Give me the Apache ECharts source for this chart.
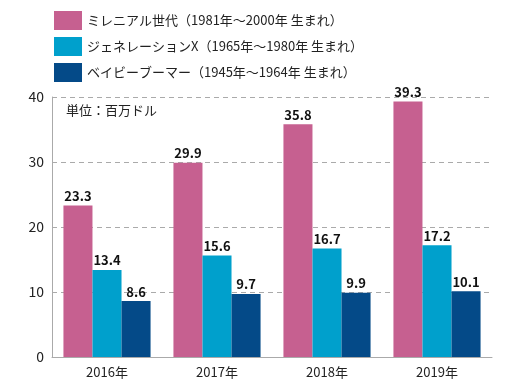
<!DOCTYPE html>
<html><head><meta charset="utf-8">
<script src="https://cdn.jsdelivr.net/npm/echarts@6/dist/echarts.min.js"></script>
<style>html,body{margin:0;padding:0;background:#fff}#c{width:529px;height:392px}</style>
</head><body><div id="c"></div>
<script>
var categories = ['2016年', '2017年', '2018年', '2019年'];
var seriesNames = ['ミレニアル世代（1981年～2000年 生まれ）', 'ジェネレーションX（1965年～1980年 生まれ）', 'ベイビーブーマー（1945年～1964年 生まれ）'];
var millennials = [23.3, 29.9, 35.8, 39.3];
var genX = [13.4, 15.6, 16.7, 17.2];
var boomers = [8.6, 9.7, 9.9, 10.1];
var yTicks = [0, 10, 20, 30, 40];
var unitLabel = '単位：百万ドル';
var colors = ['#c66090', '#00a0cc', '#044a88'];
var font = '"Noto Sans CJK JP", "Noto Sans", sans-serif';
var chart = echarts.init(document.getElementById('c'));
var values = [millennials, genX, boomers];
chart.setOption({
  animation: false,
  textStyle: {fontFamily: font},
  legend: {
    orient: 'vertical', left: 49, top: 6, itemWidth: 28, itemHeight: 19, itemGap: 7,
    icon: 'rect',
    textStyle: {fontSize: 13, color: '#222', fontFamily: font},
    data: seriesNames
  },
  graphic: [{type: 'text', left: 66, top: 104, style: {text: unitLabel, fontSize: 13, fill: '#222', fontFamily: font}}],
  grid: {left: 52, right: 37, top: 97, bottom: 35},
  xAxis: {
    type: 'category', data: categories,
    axisLine: {lineStyle: {color: '#aaa'}}, axisTick: {show: false},
    axisLabel: {fontSize: 13, color: '#222', margin: 9, fontFamily: font}
  },
  yAxis: {
    type: 'value', min: yTicks[0], max: yTicks[yTicks.length - 1], interval: 10,
    axisLine: {show: true, lineStyle: {color: '#aaa'}}, axisTick: {show: false},
    axisLabel: {fontSize: 14, color: '#222', margin: 8, fontFamily: font},
    splitLine: {lineStyle: {color: '#aaa', type: [5, 4]}}
  },
  series: seriesNames.map(function (n, i) {
    return {
      name: n, type: 'bar', data: values[i], barWidth: '26.4%', barGap: '0%',
      itemStyle: {color: colors[i]},
      label: {show: true, position: 'top', distance: 3, fontSize: 13, fontWeight: 'bold', color: '#111', fontFamily: font}
    };
  })
});
</script></body></html>
